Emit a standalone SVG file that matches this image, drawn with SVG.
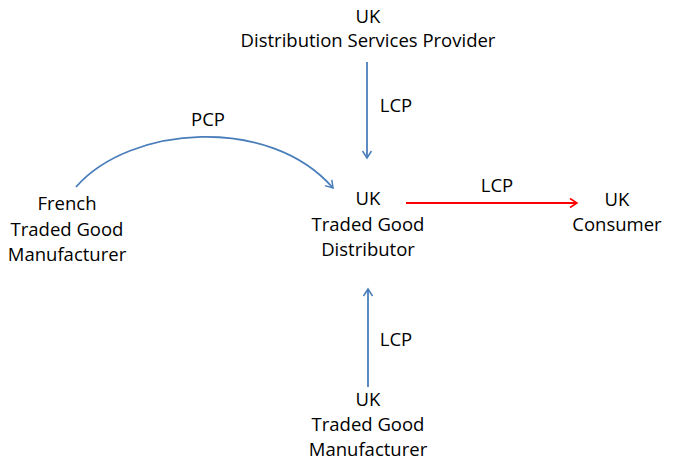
<svg xmlns="http://www.w3.org/2000/svg" width="677" height="461" viewBox="0 0 677 461">
  <defs>
    <marker id="arrBlue" markerWidth="12" markerHeight="12" refX="10" refY="6" orient="auto" markerUnits="userSpaceOnUse">
      <path d="M3,1.5 L10,6 L3,10.5" fill="none" stroke="#4a7ebb" stroke-width="1.5"/>
    </marker>
    <marker id="arrRed" markerWidth="12" markerHeight="12" refX="10" refY="6" orient="auto" markerUnits="userSpaceOnUse">
      <path d="M3,1.5 L10,6 L3,10.5" fill="none" stroke="#ff0000" stroke-width="1.5"/>
    </marker>
    <style>
      text { font-family: "Open Sans", "Liberation Sans", sans-serif; font-size: 18.5px; fill: #000; text-anchor: middle; }
      .blue { stroke: #4a7ebb; stroke-width: 1.8; fill: none; marker-end: url(#arrBlue); }
      .red { stroke: #ff0000; stroke-width: 1.8; fill: none; marker-end: url(#arrRed); }
    </style>
  </defs>

  <g id="connectors">
    <path class="blue" d="M367,62 L367,158"/>
    <path class="blue" d="M368,387 L368,289"/>
    <path class="blue" d="M76,187 C130,125 270,115 333,188"/>
    <path class="red" d="M406,203 L577,203"/>
    <text x="396" y="112">LCP</text>
    <text x="396" y="346">LCP</text>
    <text x="208" y="126">PCP</text>
    <text x="497" y="192">LCP</text>
  </g>

  <g id="dist-services">
    <text x="368" y="23">UK</text>
    <text x="368" y="47">Distribution Services Provider</text>
  </g>

  <g id="french-manufacturer">
    <text x="67" y="210">French</text>
    <text x="67" y="236">Traded Good</text>
    <text x="67" y="261">Manufacturer</text>
  </g>

  <g id="uk-distributor">
    <text x="368" y="205">UK</text>
    <text x="368" y="231">Traded Good</text>
    <text x="368" y="256">Distributor</text>
  </g>

  <g id="uk-consumer">
    <text x="617" y="206">UK</text>
    <text x="617" y="231">Consumer</text>
  </g>

  <g id="uk-manufacturer">
    <text x="368" y="406">UK</text>
    <text x="368" y="431">Traded Good</text>
    <text x="368" y="456">Manufacturer</text>
  </g>
</svg>
